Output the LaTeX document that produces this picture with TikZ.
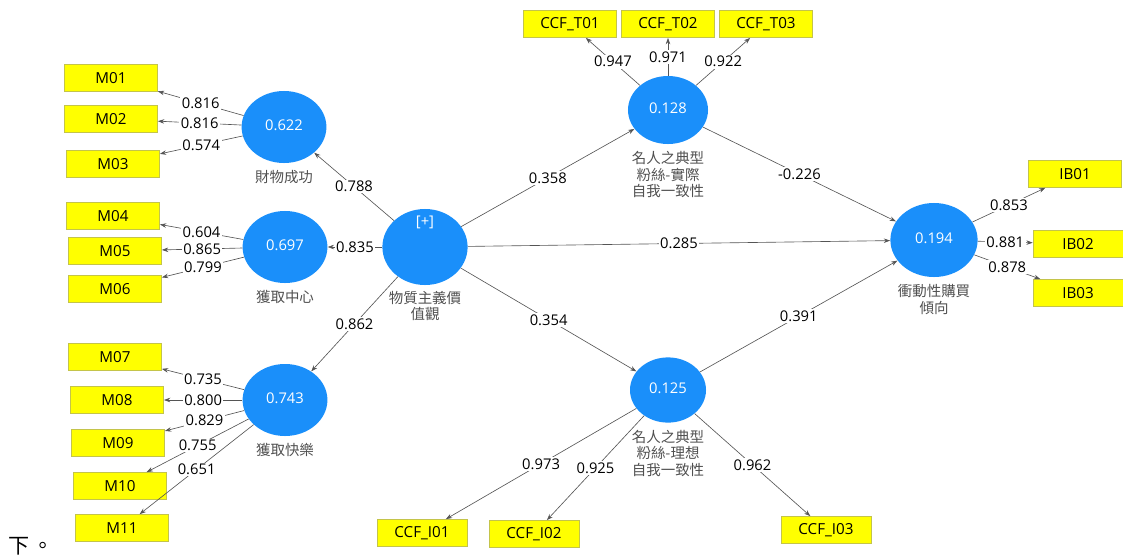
\documentclass[tikz,border=0pt]{standalone}
\usepackage{fontspec}
\setmainfont{Open Sans}
\newfontfamily\cjk{Noto Sans CJK TC}
\usetikzlibrary{arrows.meta,positioning,shapes.geometric}
\definecolor{lvblue}{HTML}{1A8FFA}
\definecolor{mvyellow}{HTML}{FFFF00}
\definecolor{mvedge}{HTML}{C4C44A}
\definecolor{linegray}{HTML}{555555}
\definecolor{capgray}{HTML}{505050}
\newcommand{\lvval}[1]{\raisebox{3pt}{#1}}

\begin{document}
\begin{tikzpicture}[x=0.025cm,y=-0.025cm,
  lv/.style={ellipse,fill=lvblue,draw=none,minimum width=2.12cm,minimum height=1.8cm,inner sep=0pt,text=white,font=\fontsize{10.5}{12}\selectfont},
  mv/.style={rectangle,fill=mvyellow,draw=mvedge,line width=0.4pt,minimum width=2.33cm,minimum height=0.68cm,inner sep=0pt,font=\fontsize{10.8}{12}\selectfont},
  lvcap/.style={font=\cjk\fontsize{10.3}{11.6}\selectfont,text=capgray,align=center,inner sep=0pt},
  arr/.style={draw=linegray,line width=0.45pt,-{Stealth[length=4.5pt,width=3.2pt]}},
  w/.style={fill=white,inner sep=1pt,font=\fontsize{10.5}{12}\selectfont}]
  \useasboundingbox (0,0) rectangle (1123,554);
  % latent variables
  \node[lv] (fin) at (284,127) {\lvval{0.622}};
  \node[lv] (cen) at (285,247) {\lvval{0.697}};
  \node[lv] (hap) at (285,400) {\lvval{0.743}};
  \node[lv,minimum width=2.13cm,minimum height=1.9cm] (mat) at (425,247) {};
  \node[text=white,font=\fontsize{10.5}{12}\selectfont] (matplus) at (425,222) {[+]};
  \node[lv,minimum width=2cm,minimum height=1.7cm] (act) at (668,110) {\lvval{0.128}};
  \node[lv,minimum width=1.9cm,minimum height=1.63cm] (idl) at (668,390) {\lvval{0.125}};
  \node[lv,minimum width=2.18cm,minimum height=1.85cm] (ib) at (934,240) {\lvval{0.194}};
  \node[lvcap,below=5pt of fin] (fincap) {財物成功};
  \node[lvcap,below=5pt of cen] (cencap) {獲取中心};
  \node[lvcap,below=5pt of hap] (hapcap) {獲取快樂};
  \node[lvcap,below=4pt of mat] (matcap) {物質主義價\\值觀};
  \node[lvcap,below=5pt of act] (actcap) {名人之典型\\粉絲-實際\\自我一致性};
  \node[lvcap,below=5pt of idl] (idlcap) {名人之典型\\粉絲-理想\\自我一致性};
  \node[lvcap,below=5pt of ib] (ibcap) {衝動性購買\\傾向};
  % indicators
  \node[mv] (m01) at (111,78) {M01};
  \node[mv] (m02) at (111,119) {M02};
  \node[mv] (m03) at (113,164) {M03};
  \node[mv] (m04) at (113,216) {M04};
  \node[mv] (m05) at (115,251) {M05};
  \node[mv] (m06) at (115,289) {M06};
  \node[mv] (m07) at (115,357) {M07};
  \node[mv] (m08) at (117,400) {M08};
  \node[mv] (m09) at (118,443) {M09};
  \node[mv] (m10) at (120,486) {M10};
  \node[mv] (m11) at (122,528) {M11};
  \node[mv] (t01) at (570,24) {CCF\_T01};
  \node[mv] (t02) at (668,24) {CCF\_T02};
  \node[mv] (t03) at (766,24) {CCF\_T03};
  \node[mv,minimum width=2.25cm] (i01) at (422,533) {CCF\_I01};
  \node[mv,minimum width=2.25cm] (i02) at (534,534) {CCF\_I02};
  \node[mv,minimum width=2.25cm] (i03) at (826,530) {CCF\_I03};
  \node[mv] (ib01) at (1075,174) {IB01};
  \node[mv,minimum width=2.25cm] (ib02) at (1078,244) {IB02};
  \node[mv,minimum width=2.25cm] (ib03) at (1078,293) {IB03};
  \node[font=\cjk\fontsize{15}{18}\selectfont,inner sep=0pt] (tail) at (31,546) {下\,。};
  % inner model
  \draw[arr] (mat) -- node[w]{0.788} (fin);
  \draw[arr] (mat) -- node[w]{0.835} (cen);
  \draw[arr] (mat) -- node[w]{0.862} (hap);
  \draw[arr] (mat) -- node[w]{0.358} (act);
  \draw[arr] (mat) -- node[w]{0.285} (ib);
  \draw[arr] (mat) -- node[w]{0.354} (idl);
  \draw[arr] (act) -- node[w]{-0.226} (ib);
  \draw[arr] (idl) -- node[w]{0.391} (ib);
  % outer model
  \draw[arr] (fin) -- node[w]{0.816} (m01);
  \draw[arr] (fin) -- node[w]{0.816} (m02);
  \draw[arr] (fin) -- node[w]{0.574} (m03);
  \draw[arr] (cen) -- node[w]{0.604} (m04);
  \draw[arr] (cen) -- node[w]{0.865} (m05);
  \draw[arr] (cen) -- node[w]{0.799} (m06);
  \draw[arr] (hap) -- node[w]{0.735} (m07);
  \draw[arr] (hap) -- node[w]{0.800} (m08);
  \draw[arr] (hap) -- node[w]{0.829} (m09);
  \draw[arr] (hap) -- node[w]{0.755} (m10);
  \draw[arr] (hap) -- node[w]{0.651} (m11);
  \draw[arr] (act) -- node[w]{0.947} (t01);
  \draw[arr] (act) -- node[w]{0.971} (t02);
  \draw[arr] (act) -- node[w]{0.922} (t03);
  \draw[arr] (idl) -- node[w]{0.973} (i01);
  \draw[arr] (idl) -- node[w]{0.925} (i02);
  \draw[arr] (idl) -- node[w]{0.962} (i03);
  \draw[arr] (ib) -- node[w]{0.853} (ib01);
  \draw[arr] (ib) -- node[w]{0.881} (ib02);
  \draw[arr] (ib) -- node[w]{0.878} (ib03);
\end{tikzpicture}
\end{document}
